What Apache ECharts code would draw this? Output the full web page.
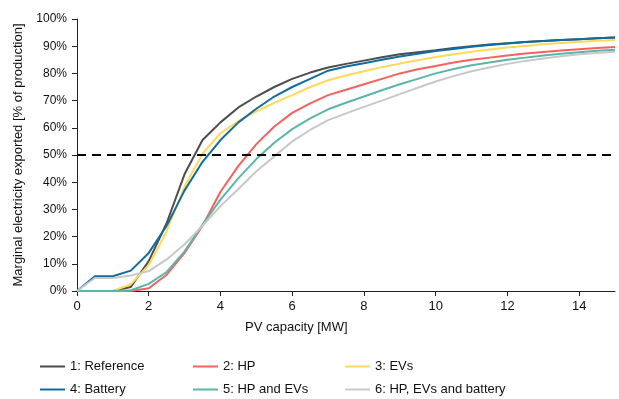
<!DOCTYPE html>
<html>
<head>
<meta charset="utf-8">
<script src="https://cdn.jsdelivr.net/npm/echarts@6/dist/echarts.min.js"></script>
<style>
  html, body { margin: 0; padding: 0; background: #fff; }
  #chart { width: 619px; height: 399px; }
</style>
</head>
<body>
<div id="chart"></div>
<script>
// PV capacity [MW], steps of 0.5
const pvCapacity = [0, 0.5, 1, 1.5, 2, 2.5, 3, 3.5, 4, 4.5, 5, 5.5, 6, 6.5, 7, 7.5, 8, 8.5, 9, 9.5, 10, 10.5, 11, 11.5, 12, 12.5, 13, 13.5, 14, 14.5, 15];

// marginal electricity exported, % of production
const reference = [0, 0, 0, 1.5, 11, 25, 43, 55.5, 62, 67.5, 71.5, 75, 78, 80.3, 82.2, 83.5, 84.7, 85.9, 87, 87.8, 88.5, 89.3, 90, 90.6, 91.1, 91.5, 91.9, 92.3, 92.6, 92.9, 93.2];
const hp = [0, 0, 0, 0, 1, 6, 14, 24, 36.5, 46, 54, 60.5, 65.5, 69, 72, 74, 76, 78, 80, 81.5, 82.7, 84, 85, 85.8, 86.6, 87.3, 87.9, 88.4, 88.9, 89.3, 89.7];
const evs = [0, 0, 0, 2.5, 9.5, 22, 38.5, 50.5, 58, 62.5, 66, 69.2, 72, 75, 77.5, 79.2, 80.8, 82.3, 83.6, 84.8, 86, 87, 88, 88.8, 89.5, 90.1, 90.7, 91.2, 91.6, 92, 92.3];
const battery = [0, 5.4, 5.4, 7.5, 14, 24, 37, 47.5, 55.5, 62, 67, 71.5, 75, 78, 81, 82.5, 83.7, 85, 86.2, 87.2, 88.2, 89, 89.8, 90.4, 91, 91.5, 91.9, 92.3, 92.6, 92.9, 93.2];
const hpEvs = [0, 0, 0, 0.3, 2.6, 7, 14.6, 24.4, 33.6, 41.5, 48.5, 54.5, 59.5, 63.5, 66.8, 69.2, 71.5, 73.8, 76, 78, 80, 81.6, 83, 84, 85, 85.8, 86.6, 87.2, 87.8, 88.3, 88.7];
const hpEvsBattery = [0, 4.8, 4.8, 5.7, 7.3, 11.6, 17.2, 24, 31.2, 37.5, 44, 49.5, 55, 59.2, 62.8, 65.3, 67.7, 70, 72.4, 74.7, 77, 79, 80.8, 82.2, 83.5, 84.6, 85.5, 86.3, 87, 87.5, 88];

const xTicks = [0, 2, 4, 6, 8, 10, 12, 14];
const yTicks = [0, 10, 20, 30, 40, 50, 60, 70, 80, 90, 100];
const threshold = 50;

const seriesInfo = [
  { name: "1: Reference", data: reference, color: "#4d4d4d" },
  { name: "2: HP", data: hp, color: "#f5625e" },
  { name: "3: EVs", data: evs, color: "#ffd95c" },
  { name: "4: Battery", data: battery, color: "#116ca0" },
  { name: "5: HP and EVs", data: hpEvs, color: "#5bb6a8" },
  { name: "6: HP, EVs and battery", data: hpEvsBattery, color: "#c8c8c8" },
];

const legendPos = [
  { left: 40, top: 360 },
  { left: 193, top: 360 },
  { left: 345, top: 360 },
  { left: 40, top: 383 },
  { left: 193, top: 383 },
  { left: 345, top: 383 },
];

const font = "Liberation Sans, Arial, sans-serif";

const option = {
  backgroundColor: "#fff",
  animation: false,
  grid: { left: 77, right: 4, top: 19, bottom: 108 },
  legend: seriesInfo.map((s, i) => ({
    data: [{ name: s.name, icon: "rect" }],
    left: legendPos[i].left,
    top: legendPos[i].top,
    itemWidth: 25,
    itemHeight: 2,
    padding: 0,
    textStyle: { fontSize: 13, color: "#111", fontFamily: font },
  })),
  graphic: [
    {
      type: "text",
      left: 245,
      top: 321,
      style: { text: "PV capacity [MW]", fontSize: 13, fill: "#111", fontFamily: font },
    },
  ],
  xAxis: {
    type: "value",
    min: 0,
    max: 15,
    interval: 2,
    splitLine: { show: false },
    axisLine: { lineStyle: { color: "#222", width: 1 } },
    axisTick: { length: 5, customValues: xTicks, lineStyle: { color: "#222" } },
    axisLabel: { customValues: xTicks, fontSize: 13, color: "#111", margin: 9, fontFamily: font },
  },
  yAxis: {
    type: "value",
    min: 0,
    max: 100,
    interval: 10,
    name: "Marginal electricity exported [% of production]",
    nameLocation: "middle",
    nameGap: 52,
    nameTextStyle: { fontSize: 13, color: "#111", fontFamily: font },
    splitLine: { show: false },
    axisLine: { show: true, lineStyle: { color: "#222", width: 1 } },
    axisTick: { show: true, length: 5, customValues: yTicks, lineStyle: { color: "#222" } },
    axisLabel: { customValues: yTicks, formatter: "{value}%", fontSize: 12, color: "#111", margin: 10, fontFamily: font },
  },
  series: seriesInfo.map((s, i) => {
    const ser = {
      name: s.name,
      type: "line",
      data: pvCapacity.map((x, k) => [x, s.data[k]]),
      showSymbol: false,
      symbol: "none",
      smooth: false,
      color: s.color,
      lineStyle: { color: s.color, width: 2 },
    };
    if (i === 0) {
      ser.markLine = {
        silent: true,
        symbol: ["none", "none"],
        label: { show: false },
        lineStyle: { color: "#000", type: [9, 6], width: 2 },
        data: [{ yAxis: threshold }],
      };
    }
    return ser;
  }),
};

const myChart = echarts.init(document.getElementById("chart"));
myChart.setOption(option);
</script>
</body>
</html>
